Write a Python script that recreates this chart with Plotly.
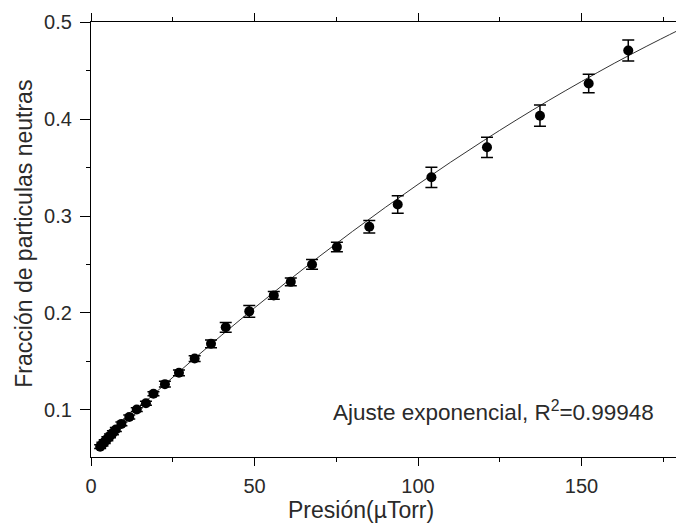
import plotly.graph_objects as go

# Data
pressure = [2.8, 3.5, 4.2, 5.0, 5.8, 6.7, 7.6, 9.3, 11.7, 14.0, 16.8, 19.1, 22.6, 26.9,
            31.7, 36.7, 41.2, 48.4, 55.9, 61.1, 67.6, 75.2, 85.1, 93.8, 104.1, 121.1,
            137.3, 152.2, 164.3]
fraction = [0.0617, 0.0643, 0.0669, 0.0698, 0.0728, 0.0761, 0.0794, 0.0852, 0.0923, 0.1000,
            0.1065, 0.1163, 0.1263, 0.1380, 0.1527, 0.1680, 0.1850, 0.2015, 0.2180, 0.2320,
            0.2500, 0.2680, 0.2890, 0.3120, 0.3400, 0.3710, 0.4037, 0.4370, 0.4710]
fraction_err = [0.002, 0.002, 0.002, 0.002, 0.002, 0.002, 0.002, 0.002, 0.002, 0.002,
                0.002, 0.002, 0.003, 0.003, 0.003, 0.004, 0.005, 0.006, 0.004, 0.004,
                0.005, 0.005, 0.0065, 0.009, 0.0105, 0.0105, 0.011, 0.0095, 0.0108]

fit_x = [2.5, 5, 10, 15, 20, 30, 40, 50, 60, 70, 80, 90, 100, 110, 120, 130, 140, 150,
         160, 170, 180]
fit_y = [0.0606, 0.0700, 0.0876, 0.1031, 0.1183, 0.1481, 0.1770, 0.2051, 0.2323, 0.2587,
         0.2842, 0.3089, 0.3327, 0.3557, 0.3778, 0.3991, 0.4195, 0.4390, 0.4578, 0.4756,
         0.4926]

x_ticks = [0, 50, 100, 150]
y_ticks = [0.1, 0.2, 0.3, 0.4, 0.5]

FONT = "Liberation Sans, Arial, sans-serif"
TXT = "#2a2a2a"

fig = go.Figure()
fig.add_trace(go.Scatter(
    x=fit_x, y=fit_y, mode="lines", line=dict(color="#333333", width=1, shape="spline"),
    showlegend=False, hoverinfo="skip"))
fig.add_trace(go.Scatter(
    x=pressure, y=fraction, mode="markers",
    marker=dict(color="black", size=10, symbol="circle"),
    error_y=dict(type="data", array=fraction_err, visible=True, color="black",
                 thickness=1.5, width=6),
    showlegend=False))

fig.update_layout(
    width=676, height=524,
    margin=dict(l=91, r=0, t=22, b=67, autoexpand=False),
    paper_bgcolor="white", plot_bgcolor="white",
    font=dict(family=FONT, color=TXT, size=20),
    xaxis=dict(range=[0, 178.9], tickvals=x_ticks, ticktext=[str(v) for v in x_ticks],
               automargin=False,
               showgrid=False, zeroline=False, showline=True, linecolor="black",
               linewidth=1.3, mirror="allticks", ticks="outside", ticklen=8,
               tickwidth=1.3, tickcolor="black", ticklabelstandoff=3,
               tickfont=dict(family=FONT, size=20, color=TXT),
               minor=dict(tickvals=[25, 75, 125, 175], ticks="outside", ticklen=4,
                          tickwidth=1.3, tickcolor="black", showgrid=False)),
    yaxis=dict(range=[0.051, 0.5005], tickvals=y_ticks, ticktext=["0.1", "0.2", "0.3", "0.4", "0.5"],
               automargin=False,
               showgrid=False, zeroline=False, showline=True, linecolor="black",
               linewidth=1.3, mirror=False, ticks="outside", ticklen=10,
               tickwidth=1.3, tickcolor="black", ticklabelstandoff=4,
               tickfont=dict(family=FONT, size=20, color=TXT),
               minor=dict(tickvals=[0.15, 0.25, 0.35, 0.45], ticks="outside", ticklen=4,
                          tickwidth=1.3, tickcolor="black", showgrid=False)),
)

fig.add_annotation(text="Presión(µTorr)", xref="paper", yref="paper",
                   x=(361 - 91) / 585, y=-(510 - 457.3) / 435, xanchor="center",
                   yanchor="middle", showarrow=False,
                   font=dict(family=FONT, size=23, color=TXT))
fig.add_annotation(text="Fracción de particulas neutras", xref="paper", yref="paper",
                   x=-(91 - 24) / 585, y=(457.3 - 234) / 435, xanchor="center",
                   yanchor="middle", textangle=-90, showarrow=False,
                   font=dict(family=FONT, size=23, color=TXT))
fig.add_annotation(text="Ajuste exponencial, R<sup>2</sup>=0.99948", xref="paper", yref="paper",
                   x=(656 - 91) / 585, y=(457.3 - 411) / 435, xanchor="right",
                   yanchor="middle", showarrow=False,
                   font=dict(family=FONT, size=22.5, color=TXT))

fig.write_html("out.html", config={"displayModeBar": False},
               post_script="document.body.style.margin='0';document.body.style.overflow='hidden';")
